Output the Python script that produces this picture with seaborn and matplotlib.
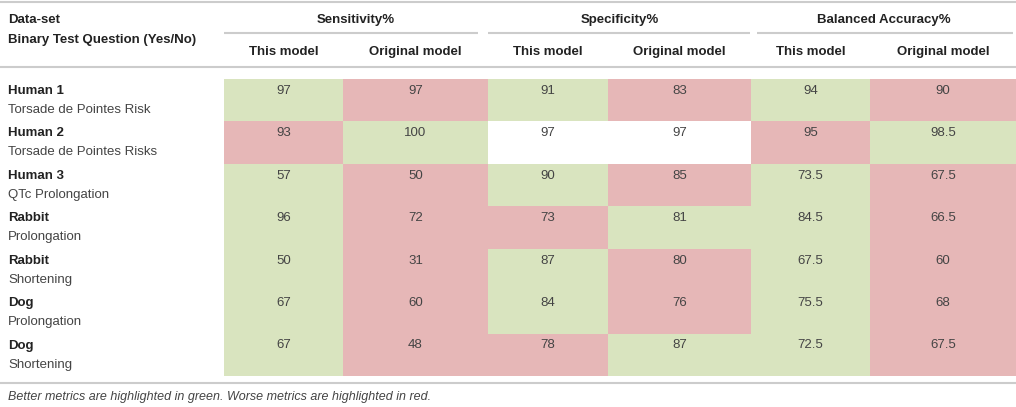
import numpy as np
import matplotlib
matplotlib.use("Agg")
import matplotlib.pyplot as plt
from matplotlib.colors import ListedColormap
from matplotlib.lines import Line2D
import seaborn as sns

# Table contents
datasets = ["Human 1", "Human 2", "Human 3", "Rabbit", "Rabbit", "Dog", "Dog"]
questions = ["Torsade de Pointes Risk", "Torsade de Pointes Risks", "QTc Prolongation",
             "Prolongation", "Shortening", "Prolongation", "Shortening"]
groups = ["Sensitivity%", "Specificity%", "Balanced Accuracy%"]
subheaders = ["This model", "Original model"] * 3

values = [
    [97, 97, 91, 83, 94, 90],
    [93, 100, 97, 97, 95, 98.5],
    [57, 50, 90, 85, 73.5, 67.5],
    [96, 72, 73, 81, 84.5, 66.5],
    [50, 31, 87, 80, 67.5, 60],
    [67, 60, 84, 76, 75.5, 68],
    [67, 48, 78, 87, 72.5, 67.5],
]
# 0 = no highlight, 1 = better (green), 2 = worse (red)
highlight = [
    [1, 2, 1, 2, 1, 2],
    [2, 1, 0, 0, 2, 1],
    [1, 2, 1, 2, 1, 2],
    [1, 2, 2, 1, 1, 2],
    [1, 2, 1, 2, 1, 2],
    [1, 2, 1, 2, 1, 2],
    [1, 2, 2, 1, 1, 2],
]
footnote = "Better metrics are highlighted in green. Worse metrics are highlighted in red."

W, H = 1016, 407
plt.rcParams['font.family'] = ['Liberation Sans', 'DejaVu Sans']
fig = plt.figure(figsize=(W / 100, H / 100), dpi=100)


def fx(px):
    return px / W


def fy(py):
    return 1 - py / H


cmap = ListedColormap(["#ffffff", "#d9e4bf", "#e6b7b7"])
col_edges = [224, 343, 488, 608, 751, 870, 1016]
top, bottom = 79, 376
vals = np.array(values, dtype=float)
codes = np.array(highlight)

# one single-column heatmap per table column (the columns differ in width)
for j in range(6):
    ax = fig.add_axes([fx(col_edges[j]), fy(bottom), fx(col_edges[j + 1]) - fx(col_edges[j]),
                       (bottom - top) / H])
    sns.heatmap(codes[:, [j]], ax=ax, cmap=cmap, vmin=-0.5, vmax=2.5, cbar=False,
                xticklabels=False, yticklabels=False, linewidths=0)
    for i in range(len(datasets)):
        ax.text(0.5, i + 0.28, f"{vals[i, j]:g}", ha="center", va="center",
                fontsize=9.5, color="#444444")
    ax.set_xlabel("")
    ax.set_ylabel("")
    for s in ax.spines.values():
        s.set_visible(False)

# header text
fig.text(fx(8), fy(20), "Data-set", fontsize=9.5, fontweight="bold", color="#222222", va="center")
fig.text(fx(8), fy(40), "Binary Test Question (Yes/No)", fontsize=9.5, fontweight="bold",
         color="#222222", va="center")
for g, name in enumerate(groups):
    cx = (col_edges[2 * g] + col_edges[2 * g + 2]) / 2
    fig.text(fx(cx), fy(20), name, fontsize=9.5, fontweight="bold", color="#222222",
             ha="center", va="center")
for j, name in enumerate(subheaders):
    cx = (col_edges[j] + col_edges[j + 1]) / 2
    fig.text(fx(cx), fy(52), name, fontsize=9.5, fontweight="bold", color="#222222",
             ha="center", va="center")

# row labels
row_h = (bottom - top) / len(datasets)
for i, (d, q) in enumerate(zip(datasets, questions)):
    y0 = top + i * row_h
    fig.text(fx(8), fy(y0 + 12), d, fontsize=9.5, fontweight="bold", color="#222222", va="center")
    fig.text(fx(8), fy(y0 + 31), q, fontsize=9.5, color="#444444", va="center")

# rules
line_kw = dict(transform=fig.transFigure, color="#cccccc", solid_capstyle="butt")
fig.add_artist(Line2D([0, 1], [fy(2), fy(2)], lw=1.5, **line_kw))
fig.add_artist(Line2D([0, 1], [fy(67), fy(67)], lw=1.5, **line_kw))
fig.add_artist(Line2D([0, 1], [fy(383), fy(383)], lw=1.5, **line_kw))
for x0, x1 in [(224, 478), (488, 750), (757, 1013)]:
    fig.add_artist(Line2D([fx(x0), fx(x1)], [fy(33), fy(33)], lw=1.5, **line_kw))

fig.text(fx(8), fy(397), footnote, fontsize=9, style="italic", color="#444444", va="center")

fig.savefig("out.png", dpi=100)
